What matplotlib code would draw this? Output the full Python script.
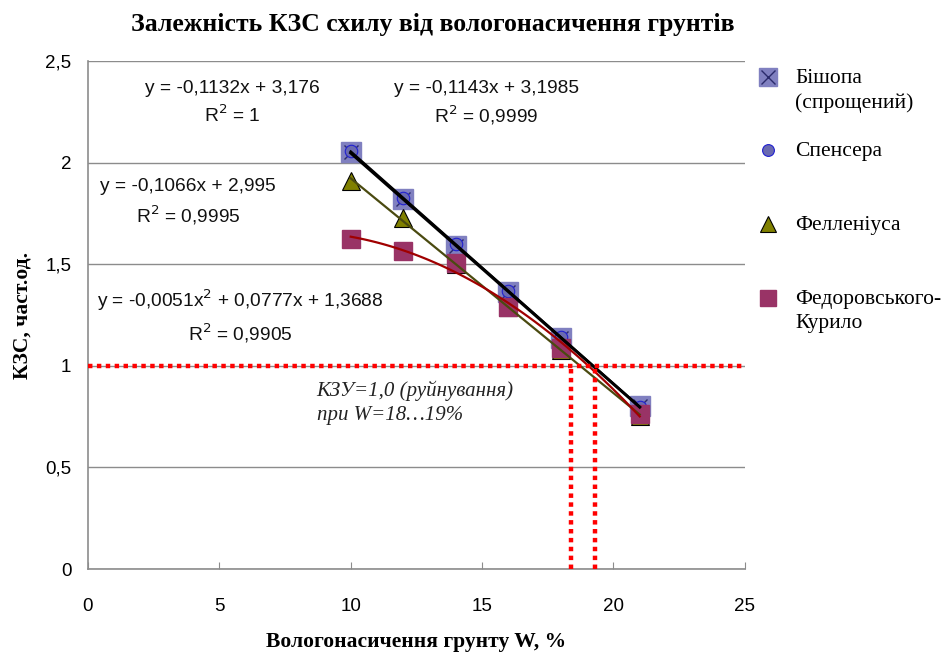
import matplotlib.pyplot as plt
from matplotlib.lines import Line2D
import numpy as np

# moisture saturation, %
w = [10, 12, 14, 16, 18, 21]

# safety factor by method
bishop = [2.05, 1.82, 1.59, 1.365, 1.135, 0.80]
spencer = [2.055, 1.827, 1.598, 1.37, 1.141, 0.798]
fellenius = [1.91, 1.725, 1.50, 1.29, 1.08, 0.755]
fedorovsky = [1.625, 1.565, 1.505, 1.29, 1.09, 0.765]

labels = ["Бішопа\n(спрощений)", "Спенсера", "Фелленіуса", "Федоровського-\nКурило"]

eq_texts = [
    ("y = -0,1132x + 3,176", "R$^2$ = 1"),
    ("y = -0,1143x + 3,1985", "R$^2$ = 0,9999"),
    ("y = -0,1066x + 2,995", "R$^2$ = 0,9995"),
    ("y = -0,0051x$^2$ + 0,0777x + 1,3688", "R$^2$ = 0,9905"),
]

limit_ksz = 1.0
w_crit = [18.4, 19.3]

serif = "Liberation Serif"
sans = "Liberation Sans"

fig = plt.figure(figsize=(9.41, 6.53), dpi=100)
ax = fig.add_axes([0.0935, 0.1286, 0.698, 0.778])

# markers
ax.plot(w, bishop, ls="none", marker="s", ms=14.5, mfc="#8080c0", mec="#8080c0", zorder=3)
ax.plot(w, bishop, ls="none", marker="x", ms=10, mec="#2b2b6b", mew=1.0, zorder=3)
ax.plot(w, spencer, ls="none", marker="o", ms=9, mfc="#6a6ab0", mec="#2020d0", mew=0.8, zorder=3)
ax.plot(w, fellenius, ls="none", marker="^", ms=13, mfc="#808000", mec="black", mew=0.8, zorder=4)
ax.plot(w, fedorovsky, ls="none", marker="s", ms=13, mfc="#993366", mec="#993366", zorder=5)

# trend lines
xx = np.linspace(min(w), max(w), 100)
p_b = np.polyfit(w, bishop, 1)
p_s = np.polyfit(w, spencer, 1)
p_f = np.polyfit(w, fellenius, 1)
p_k = np.polyfit(w, fedorovsky, 2)
ax.plot(xx, np.polyval(p_s, xx), color="black", lw=1.6, zorder=6)
ax.plot(xx, np.polyval(p_b, xx), color="black", lw=2.2, zorder=6)
ax.plot(xx, np.polyval(p_f, xx), color="#4a4a10", lw=1.6, zorder=6)
ax.plot(xx, np.polyval(p_k, xx), color="#a00000", lw=1.6, zorder=6)

# failure criterion
ax.plot([0, 25], [limit_ksz, limit_ksz], color="red", lw=3.2, ls=(0, (1, 1)), zorder=7, clip_on=False)
for xc in w_crit:
    ax.plot([xc, xc], [0, limit_ksz], color="red", lw=3.2, ls=(0, (1, 1)), zorder=7)

ax.text(8.7, 0.82, "КЗУ=1,0 (руйнування)\nпри W=18…19%", fontsize=15, family=serif,
        style="italic", color="#222222", va="center", ha="left", linespacing=1.35)

# equations
eq_pos = [(5.5, 2.365, 2.232), (15.15, 2.365, 2.232), (3.8, 1.88, 1.74), (5.78, 1.322, 1.16)]
for (t1, t2), (xe, y1, y2) in zip(eq_texts, eq_pos):
    ax.text(xe, y1, t1, fontsize=13.8, family=sans, ha="center", va="center", color="#111111")
    ax.text(xe, y2, t2, fontsize=13.8, family=sans, ha="center", va="center", color="#111111")

ax.set_xlim(0, 25)
ax.set_ylim(0, 2.5)
ax.set_xticks([0, 5, 10, 15, 20, 25])
ax.set_yticks([0, 0.5, 1, 1.5, 2, 2.5])
ax.set_yticklabels(["0", "0,5", "1", "1,5", "2", "2,5"])
ax.yaxis.grid(True, color="#8c8c8c", lw=1.0)
ax.set_axisbelow(True)
for s in ["top", "right"]:
    ax.spines[s].set_visible(False)
for s in ["left", "bottom"]:
    ax.spines[s].set_color("#8c8c8c")
    ax.spines[s].set_linewidth(1.2)
ax.tick_params(axis="x", direction="in", length=5, color="#8c8c8c", pad=21, labelsize=13.5)
ax.tick_params(axis="y", length=0, pad=12, labelsize=13.5)
for lab in ax.get_xticklabels() + ax.get_yticklabels():
    lab.set_family(sans)

ax.set_xlabel("Вологонасичення грунту W, %", family=serif, fontweight="bold", fontsize=15.5, labelpad=12)
ax.set_ylabel("КЗС, част.од.", family=serif, fontweight="bold", fontsize=15.5, labelpad=9)
fig.suptitle("Залежність КЗС схилу від вологонасичення грунтів", family=serif,
             fontweight="bold", fontsize=18.5, x=0.46, y=0.98)

# legend drawn by hand
leg_y = [1 - 77 / 653, 1 - 150 / 653, 1 - 224 / 653, 1 - 298 / 653]
mx = 768 / 941
tx = 795 / 941
styles = [
    dict(marker="s", ms=13, mfc="#8080c0", mec="#8080c0"),
    dict(marker="o", ms=8.5, mfc="#6a6ab0", mec="#2020d0", mew=0.8),
    dict(marker="^", ms=12, mfc="#808000", mec="black", mew=0.8),
    dict(marker="s", ms=11, mfc="#993366", mec="#993366"),
]
for yl, st, lab in zip(leg_y, styles, labels):
    fig.add_artist(Line2D([mx], [yl], ls="none", transform=fig.transFigure, **st))
    fig.text(tx, yl + 0.012, lab, family=serif, fontsize=15.5, va="top", ha="left",
             linespacing=1.38, transform=fig.transFigure)
fig.add_artist(Line2D([mx], [leg_y[0]], ls="none", marker="x", ms=10, mec="#2b2b6b",
                      mew=1.0, transform=fig.transFigure))

fig.savefig("out.png", dpi=100)
